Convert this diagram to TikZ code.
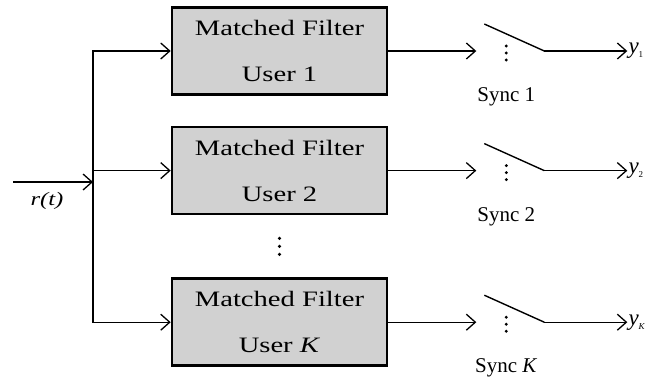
\documentclass[tikz,border=0pt]{standalone}
\usepackage{fontspec}
\setmainfont{Liberation Serif}
\newfontfamily\widefont[FakeStretch=1.3]{Liberation Serif}
\usetikzlibrary{arrows.meta,positioning}

\begin{document}
\begin{tikzpicture}[x=1pt, y=1pt, node distance=30pt, auto]
    % Define block styles
    \tikzset{
      filter/.style = {rectangle, draw, line width=2.6pt, fill=black!18, minimum width=215pt, minimum height=87pt, align=center, inner sep=0pt, font=\widefont\fontsize{22}{22}\selectfont},
      line/.style = {draw, line width=1.1pt, -{Straight Barb[length=9pt,width=16pt,line width=1.3pt]}},
      blade/.style = {draw, line width=1.4pt},
      sync/.style = {font=\fontsize{21}{21}\selectfont},
      outlabel/.style = {inner sep=1pt, font=\fontsize{23}{23}\selectfont}
    }
    \useasboundingbox (0,0) rectangle (652,-376);

    % Nodes
    \node [filter] (MF_1) at (279.5,-51) {Matched Filter\\[24pt]User 1};
    \node [filter, below=30pt of MF_1] (MF_2) {Matched Filter\\[24pt]User 2};
    \node [filter, below=62pt of MF_2] (MF_K) {Matched Filter\\[24pt]User \textit{K}};
    \path (MF_2.south) -- (MF_K.north) coordinate [midway] (gap);

    \coordinate (junc) at (93,-182);
    \coordinate [left=80pt of junc] (r_in);
    \node [font=\widefont\itshape\fontsize{19}{19}\selectfont] (r_label) at (47,-201) {r(t)};

    % Arrows
    \path [line] (r_in) -- (junc);
    \path [line] (junc) |- (MF_1.west);
    \path [line] (junc) |- (MF_2.west);
    \path [line] (junc) |- (MF_K.west);
    \foreach \d in {8,0,-8}
      \fill ([yshift=\d pt]gap) circle (1.8pt);

    % Sync switches
    \foreach \k/\lbl in {1/1, 2/2, K/\textit{K}} {
      \coordinate [right=88pt of MF_\k.east] (sw_in_\k);
      \coordinate [above right=27pt and 8pt of sw_in_\k] (sw_top_\k);
      \coordinate [right=68pt of sw_in_\k] (sw_out_\k);
      \coordinate [right=30pt of sw_in_\k] (sw_mid_\k);
      \node [outlabel, right=83pt of sw_out_\k] (y_\k) {\textit{y}\raisebox{-4pt}{\fontsize{9}{9}\selectfont\lbl}};
      \node [sync, below=33pt of sw_mid_\k] (sync_\k) {Sync \lbl};
      \path [line] (MF_\k.east) -- (sw_in_\k);
      \path [blade] (sw_top_\k) -- (sw_out_\k);
      \path [line] (sw_out_\k) -- (y_\k.west);
      \foreach \d in {5,-2,-9}
        \fill ([yshift=\d pt]sw_mid_\k) circle (1.6pt);
    }

  \end{tikzpicture}
\end{document}
